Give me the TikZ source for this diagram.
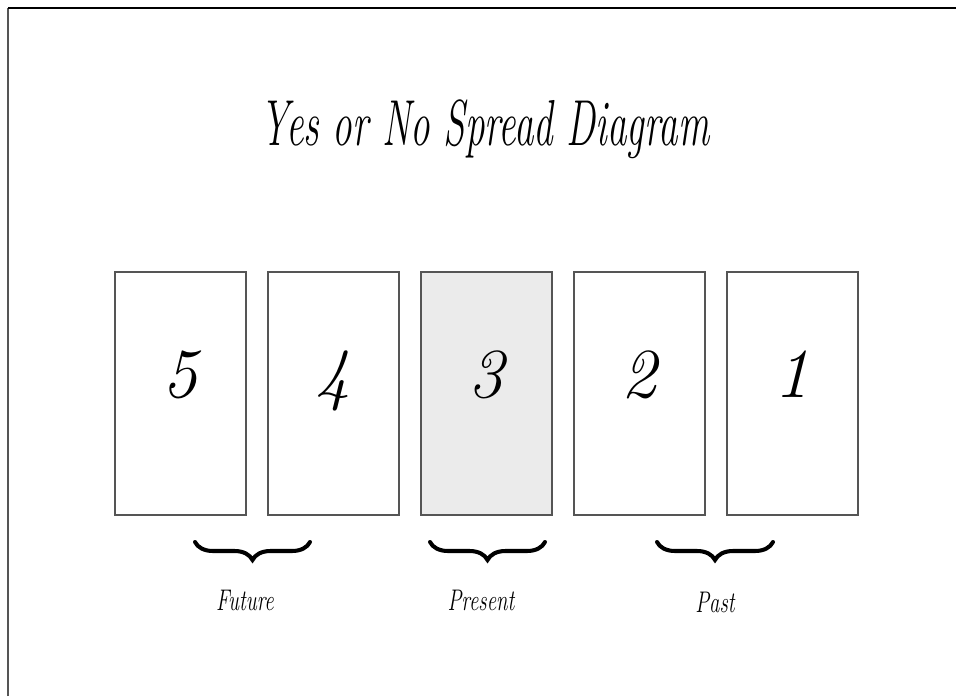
\documentclass[tikz,border=0pt]{standalone}
\usepackage{graphicx}
\usepackage{tikz}
\usetikzlibrary{positioning,calc,decorations.pathreplacing}
\definecolor{cardedge}{RGB}{85,85,85}
\definecolor{cardgray}{RGB}{235,235,235}
\newcommand{\squeeze}[2]{\scalebox{#1}[1]{#2}}

\begin{document}
\begin{tikzpicture}[x=0.02cm, y=-0.02cm,
    card/.style={rectangle, draw=cardedge, line width=0.8pt, fill=white,
      minimum width=2.62cm, minimum height=4.86cm, inner sep=0pt},
    num/.style={anchor=base, font=\fontsize{40}{40}\selectfont\itshape},
    span/.style={decorate, decoration={brace, mirror, amplitude=0.36cm},
      line width=2.3pt, line cap=round},
    lbl/.style={anchor=base, font=\fontsize{17}{20}\selectfont\itshape}
  ]
    \useasboundingbox (0,0) rectangle (956,696);
    \draw[line width=1.6pt, cardedge] (8,696) -- (8,8);
    \draw[line width=1.2pt, black] (8,8) -- (956,8);

    % Title
    \node[anchor=base, font=\fontsize{37}{40}\selectfont\itshape] (title) at (485,145)
      {\squeeze{0.6}{Yes or No Spread Diagram}};

    % Cards
    \node[card] (c5) at (180.5,393.5) {};
    \node[card] (c4) at (333.5,393.5) {};
    \node[card, fill=cardgray] (c3) at (486.5,393.5) {};
    \node[card] (c2) at (639.5,393.5) {};
    \node[card] (c1) at (792.5,393.5) {};

    \foreach \n in {5,4,3,2,1}
      \node[num] (n\n) at ($(c\n.center)+(0,4)$) {\n};

    % Braces
    \coordinate (f1) at (195,542);  \coordinate (f2) at (310,542);
    \coordinate (p1) at (430,542);  \coordinate (p2) at (545,542);
    \coordinate (q1) at (657,542);  \coordinate (q2) at (773,542);
    \draw[span] (f1) -- (f2);
    \draw[span] (p1) -- (p2);
    \draw[span] (q1) -- (q2);

    % Labels
    \node[lbl] (future)  at (245,610) {\squeeze{0.7}{Future}};
    \node[lbl] (present) at (481,610) {\squeeze{0.7}{Present}};
    \node[lbl] (past)    at (715,612) {\squeeze{0.7}{Past}};
\end{tikzpicture}
\end{document}
